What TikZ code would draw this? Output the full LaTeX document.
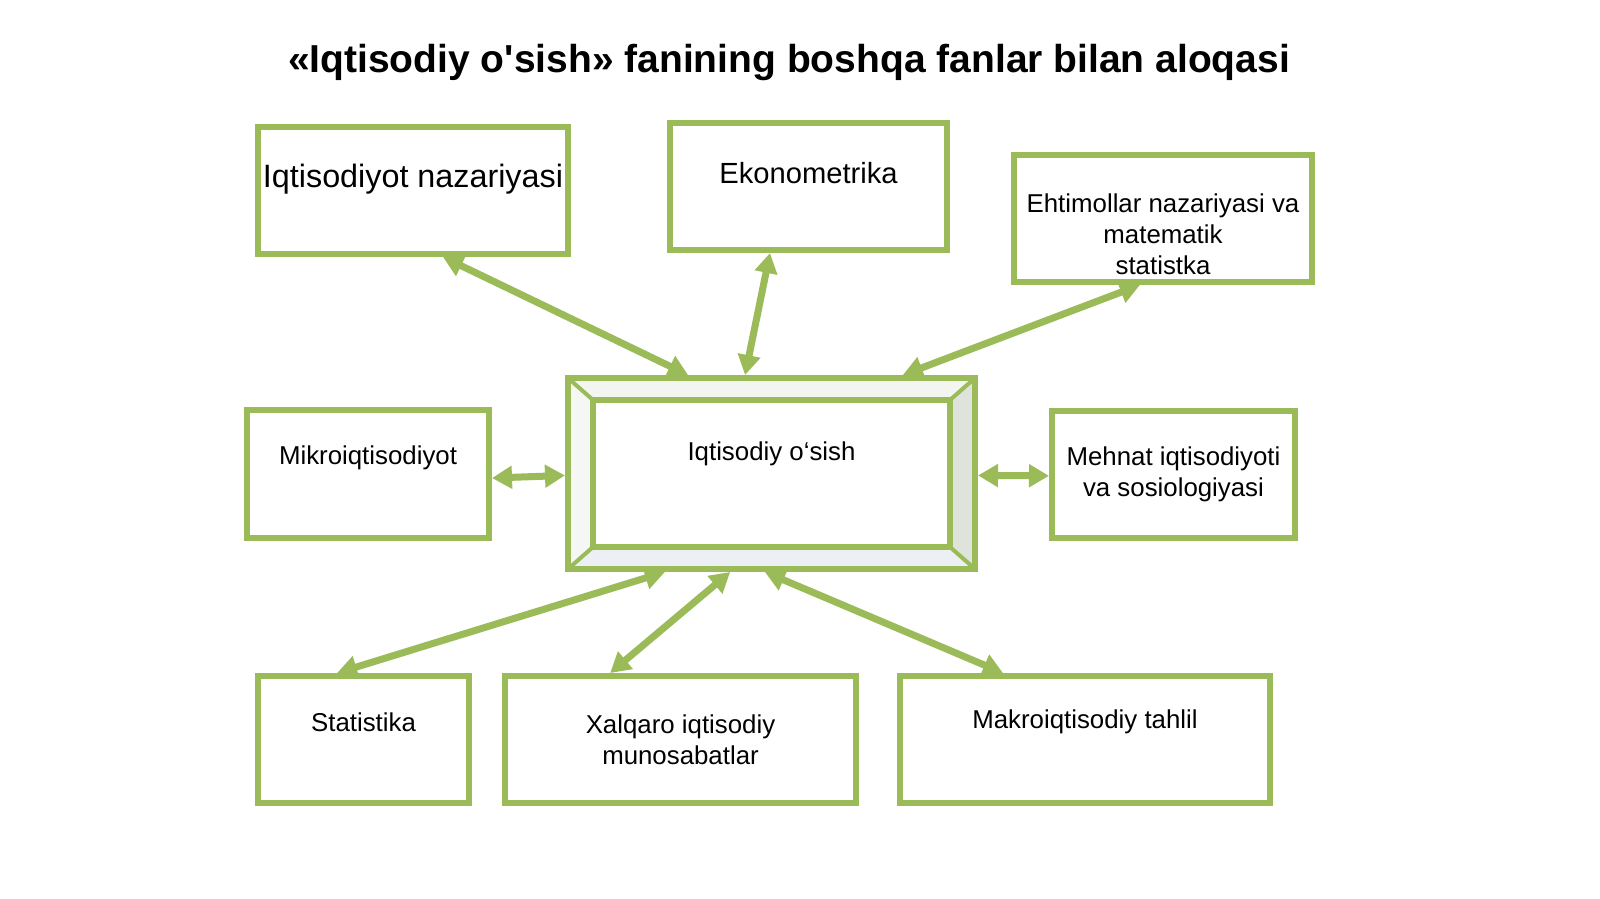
\documentclass[tikz,border=0pt]{standalone}
\usepackage{fontspec}
\setmainfont{Liberation Sans}
\newfontfamily\titlefont{Liberation Sans}[Ligatures=TeXOff]
\usetikzlibrary{arrows.meta,calc}
\definecolor{gr}{HTML}{9BBB59}
\begin{document}
\begin{tikzpicture}[x=0.02cm,y=-0.02cm,
  gbox/.style={draw=gr,line width=6*0.02cm,fill=white,inner sep=0pt},
  lab/.style={font=\fontsize{14.7}{17.6}\selectfont,align=center,inner sep=0pt},
  conn/.style={draw=gr,line width=7*0.02cm,{Triangle[length=0.4cm,width=0.44cm]}-{Triangle[length=0.4cm,width=0.44cm]}}]
\useasboundingbox[fill=white] (0,0) rectangle (1600,899);
\node[font=\titlefont\fontsize{22.2}{26}\selectfont\bfseries,inner sep=0pt] (title) at (789,63) {«Iqtisodiy o'sish» fanining boshqa fanlar bilan aloqasi};
% boxes
\node[gbox,minimum width=310*0.02cm,minimum height=127*0.02cm] (b1) at (413,190.5) {};
\node[gbox,minimum width=277*0.02cm,minimum height=127*0.02cm] (b2) at (808.5,186.5) {};
\node[gbox,minimum width=298*0.02cm,minimum height=127*0.02cm] (b3) at (1163,218.5) {};
\node[gbox,minimum width=242*0.02cm,minimum height=128*0.02cm] (b4) at (368,474) {};
\node[gbox,minimum width=243*0.02cm,minimum height=127*0.02cm] (b5) at (1173.5,474.5) {};
\node[gbox,minimum width=211*0.02cm,minimum height=127*0.02cm] (b6) at (363.5,739.5) {};
\node[gbox,minimum width=351*0.02cm,minimum height=127*0.02cm] (b7) at (680.5,739.5) {};
\node[gbox,minimum width=370*0.02cm,minimum height=127*0.02cm] (b8) at (1085,739.5) {};
% centre box with bevel
\node[gbox,minimum width=407*0.02cm,minimum height=191*0.02cm] (c) at (771.5,473.5) {};
\coordinate (o1) at (568,378); \coordinate (o2) at (975,378);
\coordinate (o3) at (975,569); \coordinate (o4) at (568,569);
\coordinate (i1) at (593,400); \coordinate (i2) at (950,400);
\coordinate (i3) at (950,547); \coordinate (i4) at (593,547);
\fill[color={rgb,255:red,243;green,246;blue,240}] (o1)--(o2)--(i2)--(i1)--cycle;
\fill[color={rgb,255:red,222;green,228;blue,220}] (o2)--(o3)--(i3)--(i2)--cycle;
\fill[color={rgb,255:red,236;green,240;blue,244}] (o3)--(o4)--(i4)--(i3)--cycle;
\fill[color={rgb,255:red,244;green,247;blue,244}] (o4)--(o1)--(i1)--(i4)--cycle;
\draw[gr,line width=6*0.02cm] (c.north west) ++(0.06cm,-0.06cm) rectangle ($(c.south east)+(-0.06cm,0.06cm)$);
\draw[gr,line width=4*0.02cm] (o1)--(i1) (o2)--(i2) (o3)--(i3) (o4)--(i4);
\node[gbox,minimum width=357*0.02cm,minimum height=147*0.02cm] (ci) at (771.5,473.5) {};
% labels
\node[lab,font=\fontsize{18.4}{22}\selectfont] (t1) at (413,179) {Iqtisodiyot nazariyasi};
\node[lab,font=\fontsize{16.6}{20}\selectfont] (t2) at (808.5,173) {Ekonometrika};
\node[lab] (t3) at (1163,234) {Ehtimollar nazariyasi va\\matematik\\statistka};
\node[lab] (t4) at (368,458) {Mikroiqtisodiyot};
\node[lab] (t5) at (1173.5,474.5) {Mehnat iqtisodiyoti\\va sosiologiyasi};
\node[lab] (t6) at (363.5,722) {Statistika};
\node[lab] (t7) at (680.5,739.5) {Xalqaro iqtisodiy\\munosabatlar};
\node[lab] (t8) at (1085,722) {Makroiqtisodiy tahlil};
\node[lab] (tc) at (771.5,454) {Iqtisodiy o‘sish};
% connectors
\draw[conn] ($(b1.south west)!0.595!(b1.south east)$) -- ($(c.north west)!0.298!(c.north east)$);
\draw[conn] ($(b2.south west)!0.364!(b2.south east)$) -- ($(c.north west)!0.436!(c.north east)$);
\draw[conn] ($(b3.south west)!0.424!(b3.south east)$) -- ($(c.north west)!0.818!(c.north east)$);
\draw[conn] ($(b4.south east)!0.47!(b4.north east)$) -- ($(c.south west)!0.49!(c.north west)$);
\draw[conn] ($(c.south east)!0.49!(c.north east)$) -- ($(b5.south west)!0.49!(b5.north west)$);
\draw[conn] ($(c.south west)!0.242!(c.south east)$) -- ($(b6.north west)!0.378!(b6.north east)$);
\draw[conn] ($(c.south west)!0.4!(c.south east)$) -- ($(b7.north west)!0.303!(b7.north east)$);
\draw[conn] ($(c.south west)!0.484!(c.south east)$) -- ($(b8.north west)!0.282!(b8.north east)$);
\end{tikzpicture}
\end{document}
